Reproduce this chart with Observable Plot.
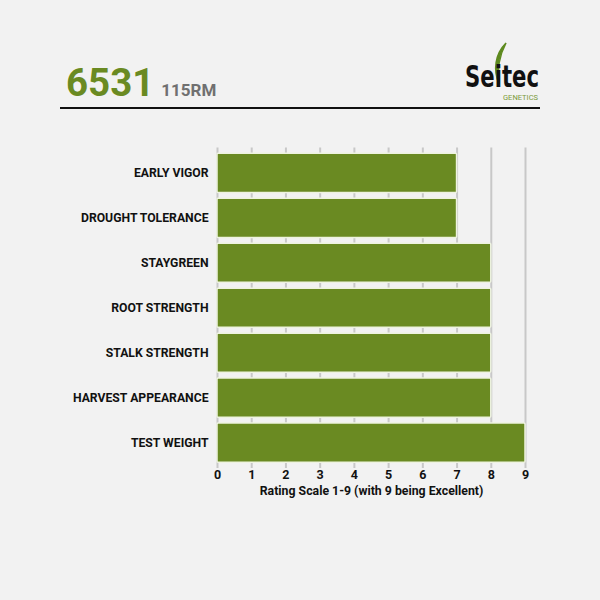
<!DOCTYPE html>
<html><head><meta charset="utf-8">
<script src="https://cdn.jsdelivr.net/npm/d3@7"></script>
<script src="https://cdn.jsdelivr.net/npm/@observablehq/plot@0.6"></script>
<style>
body{margin:0;background:#f2f2f2;font-family:Roboto,sans-serif;}
#page{position:relative;width:600px;height:600px;background:#f2f2f2;overflow:hidden;}
#title{position:absolute;left:66px;top:60px;white-space:nowrap;}
#title .num{font-size:38.5px;font-weight:700;color:#6a8a22;}
#title .rm{font-size:17px;font-weight:700;color:#707070;margin-left:7px;}
#rule{position:absolute;left:60px;top:107px;width:480px;height:2px;background:#111;}
#logo{position:absolute;left:455px;top:40px;overflow:visible;}
#chart{position:absolute;left:0;top:140px;}
</style></head>
<body><div id="page">
<div id="title"><span class="num">6531</span><span class="rm">115RM</span></div>
<svg id="logo" width="140" height="66" viewBox="0 0 140 66">
  <path d="M51,3 C40,14 38,30 44,44 C42,29 44,16 51,3 Z" fill="#5e8a1f" stroke="#5e8a1f" stroke-width="1.5"/>
  <text x="10" y="47" font-family="'DejaVu Sans Condensed','Liberation Sans Narrow',Roboto,sans-serif" font-weight="700" font-size="31" fill="#111" textLength="74" lengthAdjust="spacingAndGlyphs">Seitec</text>
  <text x="48" y="59.5" font-family="Roboto,sans-serif" font-size="7.5" fill="#7a9a3a" textLength="35" lengthAdjust="spacingAndGlyphs">GENETICS</text>
</svg>
<div id="rule"></div>
<div id="chart"></div>
</div>
<script>
const traits = ["EARLY VIGOR","DROUGHT TOLERANCE","STAYGREEN","ROOT STRENGTH","STALK STRENGTH","HARVEST APPEARANCE","TEST WEIGHT"];
const ratings = [7,7,8,8,8,8,9];
const xTicks = [0,1,2,3,4,5,6,7,8,9];
const xLabel = "Rating Scale 1-9 (with 9 being Excellent)";

const data = traits.map((t,i)=>({trait:t, rating:ratings[i]}));

const chart = Plot.plot({
  width: 600,
  height: 370,
  marginLeft: 217,
  marginRight: 75,
  marginTop: 7.5,
  marginBottom: 42,
  style: {background:"transparent", fontFamily:"Roboto, sans-serif", overflow:"visible"},
  x: {domain:[0,9], ticks: xTicks, label: null, tickSize: 0},
  y: {domain: traits, padding: 0.13, round: false, label: null, tickSize: 0},
  marks: [
    Plot.gridX(xTicks, {stroke:"#c8c8c8", strokeWidth:2, strokeOpacity:1}),
    Plot.barX(data, {x:"rating", y:"trait", fill:"#6a8a22", stroke:"#eef3e0", strokeWidth:1.5, rx:1}),
    Plot.axisX(xTicks, {tickSize:0, tickPadding:2, fontWeight:700, fontSize:12.5, fill:"#111", label:null, tickFormat: d=>String(d)}),
    Plot.text([xLabel], {frameAnchor:"bottom", dy: 26, x: 4.5, fontWeight:700, fontSize:12.3, fill:"#111"}),
    Plot.axisY({tickSize:0, tickPadding:9, fontWeight:700, fontSize:12.2, fill:"#111", label:null})
  ]
});
document.getElementById("chart").appendChild(chart);
</script>
</body></html>
